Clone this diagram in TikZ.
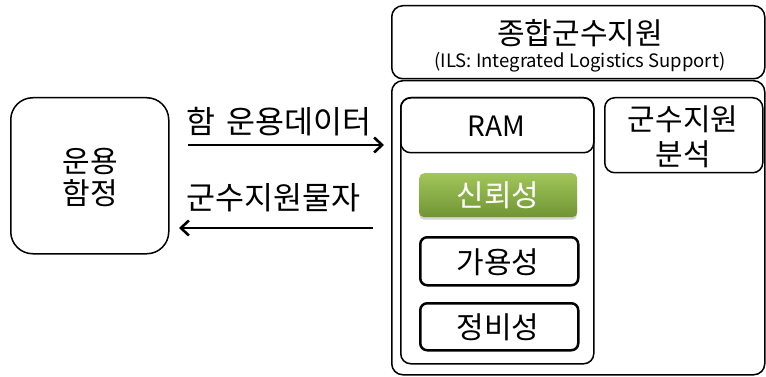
\documentclass[tikz,border=0pt]{standalone}
\usepackage{fontspec}
\setmainfont{Noto Sans CJK KR}
\usetikzlibrary{arrows.meta,shadows}
\definecolor{gtop}{RGB}{162,198,90}
\definecolor{gbot}{RGB}{112,148,52}
\tikzset{
  box/.style={draw=black, line width=1.5pt, rounded corners=11pt, anchor=north west, inner sep=0pt},
  thickbox/.style={draw=black, line width=2.5pt, rounded corners=7pt, anchor=north west, inner sep=0pt},
  lbl/.style={font=\fontsize{30}{34}\selectfont, inner sep=0pt},
  flow/.style={line width=2.8pt, -{Straight Barb[length=8pt,width=15pt,line width=2.6pt]}},
}
\begin{document}
\begin{tikzpicture}[x=1pt,y=-1pt]
\useasboundingbox (0,0) rectangle (766,377);
% top ILS box
\node[box, minimum width=373pt, minimum height=73pt] (ils) at (391,5) {};
\node[lbl] (ilsT) at (580,33) {종합군수지원};
\node[font=\fontsize{18.5}{20}\selectfont, inner sep=0pt] (ilsS) at (580,62) {(ILS: Integrated Logistics Support)};
% big box
\node[box, minimum width=373pt, minimum height=294pt] (big) at (391,80) {};
% RAM column
\node[box, rounded corners=10pt, minimum width=193pt, minimum height=266pt] (ramcol) at (400,97) {};
\node[box, rounded corners=10pt, minimum width=193pt, minimum height=55pt] (ram) at (400,97) {};
\node[lbl, font=\fontsize{28}{30}\selectfont] (ramT) at (496.5,126) {RAM};
% analysis
\node[box, rounded corners=10pt, minimum width=158pt, minimum height=75pt] (ana) at (604,97) {};
\node[lbl, align=center, font=\fontsize{30}{35}\selectfont] (anaT) at (683,137) {군수지원\\분석};
% reliability
\node[anchor=north west, inner sep=0pt, minimum width=158pt, minimum height=44pt,
      rounded corners=5pt, top color=gtop, bottom color=gbot,
      drop shadow={opacity=0.35, shadow xshift=0pt, shadow yshift=-2.5pt}] (rel) at (419,173) {};
\node[lbl, text=white] (relT) at (498,195) {신뢰성};
\node[thickbox, minimum width=158pt, minimum height=48pt] (avail) at (419,236) {};
\node[lbl] (availT) at (498,262) {가용성};
\node[thickbox, minimum width=158pt, minimum height=47pt] (maint) at (419,302) {};
\node[lbl] (maintT) at (498,327) {정비성};
% left ship box
\node[box, rounded corners=22pt, minimum width=158pt, minimum height=156pt] (ship) at (10,97) {};
\node[lbl, align=center, font=\fontsize{30}{32}\selectfont] (shipT) at (90,178) {운용\\함정};
% arrows
\coordinate (a1s) at (188,145);
\coordinate (a1e) at (384,145);
\coordinate (a2s) at (373,228);
\coordinate (a2e) at (179,228);
\draw[flow] (a1s) -- (a1e);
\draw[flow] (a2s) -- (a2e);
\node[lbl, anchor=west, font=\fontsize{31.5}{34}\selectfont] (a1T) at (186,122) {함\hspace{4pt} 운용데이터};
\node[lbl, anchor=west, font=\fontsize{31.5}{34}\selectfont] (a2T) at (186,198) {군수지원물자};
\end{tikzpicture}
\end{document}
